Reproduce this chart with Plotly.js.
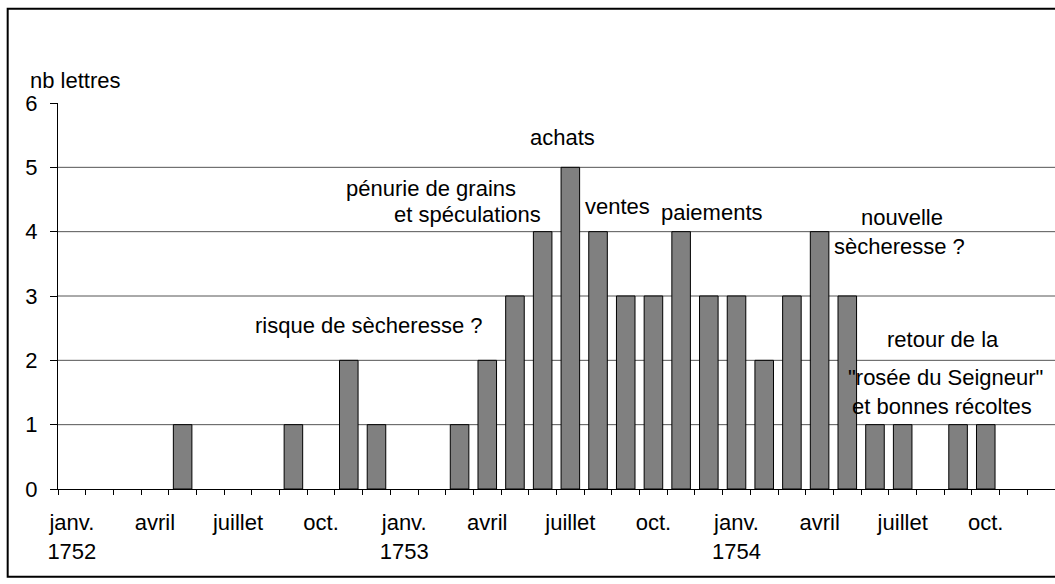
<!DOCTYPE html>
<html>
<head>
<meta charset="utf-8">
<script src="https://cdn.plot.ly/plotly-3.0.1.min.js"></script>
<style>html,body{margin:0;padding:0;background:#fff;}#chart{width:1055px;height:584px;}</style>
</head>
<body>
<div id="chart"></div>
<script>
// ---- data ----
const months = [
  "1752-01","1752-02","1752-03","1752-04","1752-05","1752-06","1752-07","1752-08","1752-09","1752-10","1752-11","1752-12",
  "1753-01","1753-02","1753-03","1753-04","1753-05","1753-06","1753-07","1753-08","1753-09","1753-10","1753-11","1753-12",
  "1754-01","1754-02","1754-03","1754-04","1754-05","1754-06","1754-07","1754-08","1754-09","1754-10","1754-11","1754-12"
];
const letters = [
  0,0,0,0,1,0,0,0,1,0,2,1,
  0,0,1,2,3,4,5,4,3,3,4,3,
  3,2,3,4,3,1,1,0,1,1,0,0
];
const monthLabels = [
  "janv.<br>1752","","","avril","","","juillet","","","oct.","","",
  "janv.<br>1753","","","avril","","","juillet","","","oct.","","",
  "janv.<br>1754","","","avril","","","juillet","","","oct.","",""
];
const yTicks = [0,1,2,3,4,5,6];
const gridValues = [1,2,3,4,5];
const yTitle = "nb lettres";
const notes = [
  {text:"risque de sècheresse ?", px:368.5, py:326},
  {text:"pénurie de grains", px:431.5, py:189},
  {text:"et spéculations", px:467.5, py:215},
  {text:"achats", px:563, py:138},
  {text:"ventes", px:618, py:207},
  {text:"paiements", px:712.5, py:213},
  {text:"nouvelle", px:902, py:218},
  {text:"sècheresse ?", px:900, py:247},
  {text:"retour de la", px:943.5, py:340},
  {text:"\"rosée du Seigneur\"", px:946, py:378},
  {text:"et bonnes récoltes", px:942.5, py:407}
];

// ---- layout geometry ----
const W = 1055, H = 584;
const L = 58.3, R = 1055, T = 103.3, B = 489.3;
const fx = p => (p - L) / (R - L);
const fy = p => (B - p) / (B - T);
const FONT = "Liberation Sans, Arial, Helvetica, sans-serif";

const trace = {
  type: "bar",
  x: months,
  y: letters,
  width: 0.67,
  marker: {
    color: "#808080",
    line: {color: "#000", width: letters.map(v => v > 0 ? 1 : 0)}
  },
  hoverinfo: "x+y"
};

const shapes = gridValues.map(v => ({
  type: "line", xref: "paper", yref: "y", x0: 0, x1: 1, y0: v, y1: v,
  line: {color: "#555", width: 1}, layer: "below"
}));
shapes.push({
  type: "rect", xref: "paper", yref: "paper",
  x0: fx(8), x1: fx(1062), y0: fy(577), y1: fy(9),
  line: {color: "#000", width: 2}, fillcolor: "rgba(0,0,0,0)", layer: "above"
});

const annotations = notes.map(n => ({
  text: n.text, xref: "paper", yref: "paper", x: fx(n.px), y: fy(n.py),
  xanchor: "center", yanchor: "middle", showarrow: false,
  font: {family: FONT, size: 22, color: "#000"}
}));
annotations.push({
  text: yTitle, xref: "paper", yref: "paper", x: fx(28), y: fy(81),
  xanchor: "left", yanchor: "middle", showarrow: false,
  font: {family: FONT, size: 22, color: "#000"}
});

const layout = {
  width: W, height: H,
  margin: {l: L, r: W - R, t: T, b: H - B, pad: 0},
  paper_bgcolor: "#fff", plot_bgcolor: "#fff",
  showlegend: false,
  font: {family: FONT, size: 22, color: "#000"},
  bargap: 0.33,
  xaxis: {
    type: "category",
    categoryorder: "array", categoryarray: months,
    tickmode: "array", tickvals: months, ticktext: monthLabels,
    tickson: "boundaries",
    ticks: "outside", ticklen: 5, tickcolor: "#000", tickwidth: 1,
    showline: true, linecolor: "#000", linewidth: 1,
    showgrid: false, zeroline: false,
    tickangle: 0,
    ticklabelstandoff: 14,
    tickfont: {family: FONT, size: 22, color: "#000"},
    range: [-0.5, 35.5], fixedrange: true
  },
  yaxis: {
    range: [0, 6],
    tickmode: "array", tickvals: yTicks, ticktext: yTicks.map(String),
    ticks: "outside", ticklen: 7, tickcolor: "#000", tickwidth: 1,
    showline: true, linecolor: "#000", linewidth: 1,
    showgrid: false, zeroline: false,
    ticklabelstandoff: 8,
    tickfont: {family: FONT, size: 22, color: "#000"},
    fixedrange: true
  },
  shapes: shapes,
  annotations: annotations
};

Plotly.newPlot("chart", [trace], layout, {staticPlot: true, displayModeBar: false});
</script>
</body>
</html>
